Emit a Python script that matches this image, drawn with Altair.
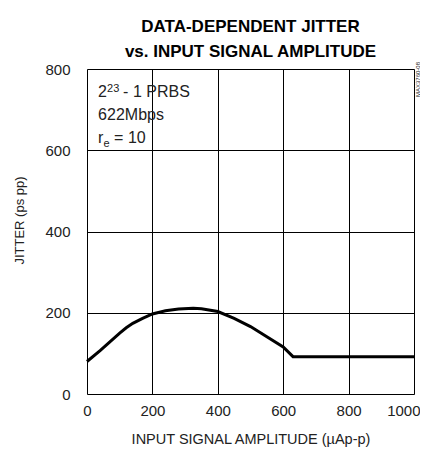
import altair as alt
import pandas as pd

# Curve data
amp = [0, 40, 100, 120, 140, 170, 200, 240, 280, 325, 350, 400, 450, 500, 550, 600, 630, 1000]
jitter = [80, 107, 150, 163, 174, 186, 197, 205, 209, 211, 210, 203, 186, 166, 141, 116, 92, 92]

x_ticks = [0, 200, 400, 600, 800, 1000]
y_ticks = [0, 200, 400, 600, 800]

title_lines = ["DATA-DEPENDENT JITTER", "vs. INPUT SIGNAL AMPLITUDE"]
x_title = "INPUT SIGNAL AMPLITUDE (µAp-p)"
y_title = "JITTER (ps pp)"

# annotation pieces
ann_text = ["2", "23", "- 1 PRBS", "622Mbps", "r", "e", "= 10"]
ann_x = [34, 34, 34, 34, 34, 34, 34]
ann_y = [731, 731, 731, 674, 618, 618, 618]
ann_dx = [0, 9, 25, 0, 0, 5.5, 16]
ann_dy = [0, -5, 0, 0, 0, 4, 0]
ann_size = [16, 11, 16, 16, 16, 11, 16]

code_label = "MAX3760-08"

df = pd.DataFrame({"amp": amp, "jitter": jitter})

xs = alt.Scale(domain=[0, 1000], nice=False)
ys = alt.Scale(domain=[0, 800], nice=False)

line = alt.Chart(df).mark_line(color="black", strokeWidth=3).encode(
    x=alt.X("amp:Q", scale=xs, axis=alt.Axis(
        values=x_ticks, format="d", title=x_title, grid=True, gridColor="black", gridWidth=1,
        ticks=False, domain=False, labelFont="Liberation Sans", labelFontSize=15,
        labelColor="#222", labelPadding=9, labelFlush=False,
        labelAlign=alt.ExprRef(expr="datum.value >= 1000 ? 'right' : 'center'"),
        labelOffset=alt.ExprRef(expr="datum.value >= 1000 ? 6 : 0"),
        titleFont="Liberation Sans", titleFontSize=14.5, titleFontWeight="normal",
        titleColor="#222", titleBaseline="middle", titleY=45)),
    y=alt.Y("jitter:Q", scale=ys, axis=alt.Axis(
        values=y_ticks, format="d", title=y_title, grid=True, gridColor="black", gridWidth=1,
        ticks=False, domain=False, labelFont="Liberation Sans", labelFontSize=15,
        labelColor="#222", labelPadding=17, labelFlush=False,
        titleFont="Liberation Sans", titleFontSize=13, titleFontWeight="normal",
        titleColor="#222", titleBaseline="middle", titleX=-68, titleY=151)),
)

layers = [line]
for t, x, y, dx, dy, s in zip(ann_text, ann_x, ann_y, ann_dx, ann_dy, ann_size):
    d = pd.DataFrame({"t": [t], "x": [x], "y": [y]})
    layers.append(
        alt.Chart(d).mark_text(align="left", baseline="alphabetic", font="Liberation Sans",
                               fontSize=s, color="#222", dx=dx, dy=dy).encode(
            x=alt.X("x:Q", scale=xs), y=alt.Y("y:Q", scale=ys), text="t:N")
    )

code = alt.Chart(pd.DataFrame({"t": [code_label]})).mark_text(
    angle=270, align="left", baseline="top", font="Liberation Sans",
    fontSize=6, color="#222").encode(
    x=alt.value(327.5), y=alt.value(28), text="t:N")
layers.append(code)

chart = alt.layer(*layers).properties(
    width=327, height=325,
    title=alt.TitleParams(text=title_lines, font="Liberation Sans", fontSize=17,
                          fontWeight="bold", anchor="middle", lineHeight=25,
                          offset=1, color="black"),
    autosize=alt.AutoSizeParams(type="none"),
    padding={"left": 79, "top": 61, "right": 6, "bottom": 54},
).configure_view(stroke="black", strokeWidth=2.5).configure(background="white")

chart.save("out.html", embed_options={"renderer": "svg", "actions": False})
